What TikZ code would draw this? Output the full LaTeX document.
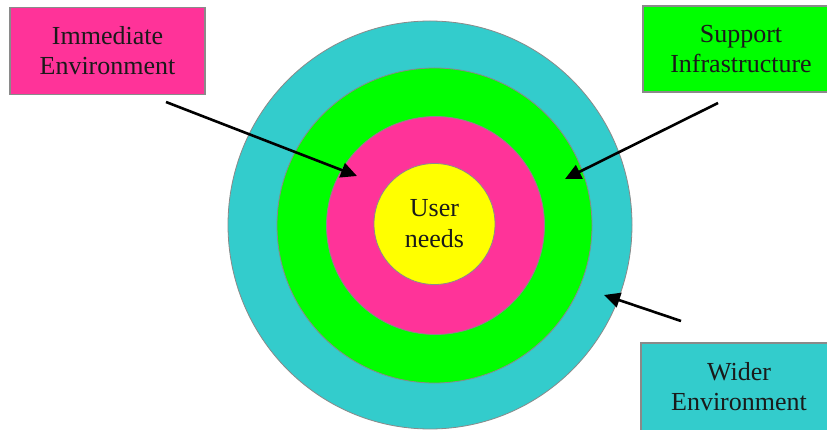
\documentclass[tikz,border=0pt]{standalone}
\usepackage{fontspec}
\setmainfont{Liberation Serif}
\usetikzlibrary{shapes.geometric,arrows.meta}

\definecolor{ringteal}{HTML}{33CCCC}
\definecolor{ringgreen}{HTML}{00FF00}
\definecolor{ringpink}{HTML}{FF3399}
\definecolor{coreyellow}{HTML}{FFFF00}
\definecolor{edgegray}{HTML}{8A8A8A}
\definecolor{inkdark}{HTML}{1A1A1A}

\tikzset{
  ring/.style={circle, draw=edgegray, line width=0.8pt, inner sep=0pt},
  labelbox/.style={rectangle, draw=edgegray, line width=1.2pt, inner sep=0pt,
    align=center, text=inkdark, font=\fontsize{26}{30}\selectfont},
  pointer/.style={draw=black, line width=2.6pt,
    -{Triangle[length=16pt,width=15pt]}}
}

\begin{document}
\begin{tikzpicture}[x=1pt,y=-1pt]
  \clip (0,0) rectangle (827,430);
  \fill[white] (0,0) rectangle (827,430);

  % concentric rings, outermost first
  \node[ring, ellipse, fill=ringteal, minimum width=404pt, minimum height=408pt] (wider) at (430,225) {};
  \node[ring, fill=ringgreen, minimum size=315pt] (support) at (434.5,225.5) {};
  \node[ring, fill=ringpink, minimum size=218pt] (immediate) at (435.5,225.5) {};
  \node[ring, fill=coreyellow, minimum size=121pt, align=center, text=inkdark,
        font=\fontsize{26}{31}\selectfont] (user) at (434.5,224) {User\\needs};

  % captions
  \node[labelbox, fill=ringpink, minimum width=195pt, minimum height=87pt] (ieBox) at (107.5,51) {Immediate\\Environment};
  \node[labelbox, fill=ringgreen, minimum width=196pt, minimum height=86pt] (siBox) at (741,49) {Support\\Infrastructure};
  \node[labelbox, fill=ringteal, minimum width=196pt, minimum height=88pt] (weBox) at (739,387) {Wider\\Environment};

  % pointer ends
  \coordinate (ieTail) at (166,102);
  \coordinate (ieTip) at (357,176);
  \coordinate (siTail) at (718,103);
  \coordinate (siTip) at (565,179);
  \coordinate (weTail) at (681,321);
  \coordinate (weTip) at (604,295);

  \draw[pointer] (ieTail) -- (ieTip);
  \draw[pointer] (siTail) -- (siTip);
  \draw[pointer] (weTail) -- (weTip);
\end{tikzpicture}
\end{document}
